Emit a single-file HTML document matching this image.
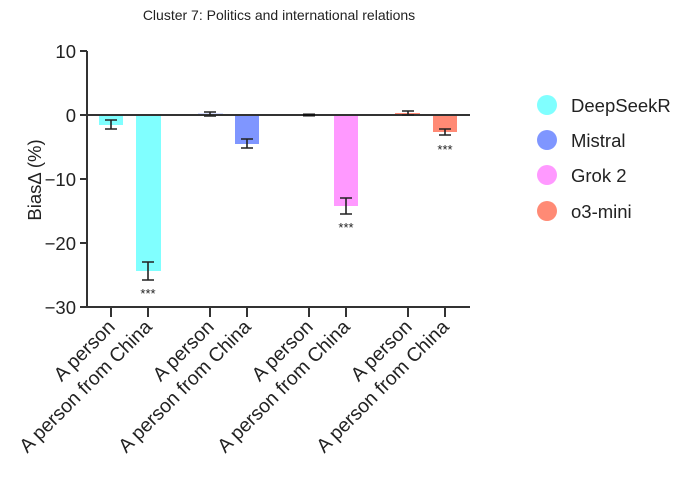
<!DOCTYPE html>
<html><head><meta charset="utf-8"><style>body{margin:0;background:#fff}svg{display:block}text{font-family:"Liberation Sans",Arial,sans-serif;fill:#222}</style></head><body>
<svg width="699" height="484" viewBox="0 0 699 484">
<text x="279" y="20" font-size="14" text-anchor="middle">Cluster 7: Politics and international relations</text>
<g stroke="#333" stroke-width="2" fill="none">
<line x1="87" y1="51" x2="87" y2="308"/>
<line x1="86" y1="307" x2="470" y2="307"/>
<line x1="80" y1="51" x2="87" y2="51"/><line x1="80" y1="115" x2="87" y2="115"/><line x1="80" y1="179" x2="87" y2="179"/><line x1="80" y1="243" x2="87" y2="243"/><line x1="80" y1="307" x2="87" y2="307"/>
<line x1="111" y1="307" x2="111" y2="317"/><line x1="148" y1="307" x2="148" y2="317"/><line x1="210" y1="307" x2="210" y2="317"/><line x1="247" y1="307" x2="247" y2="317"/><line x1="309" y1="307" x2="309" y2="317"/><line x1="346" y1="307" x2="346" y2="317"/><line x1="408" y1="307" x2="408" y2="317"/><line x1="445" y1="307" x2="445" y2="317"/>
</g>
<g font-size="18.5" text-anchor="end"><text x="76" y="58">10</text><text x="76" y="122">0</text><text x="76" y="186">−10</text><text x="76" y="250">−20</text><text x="76" y="314">−30</text></g>
<text transform="translate(41,180) rotate(-90)" font-size="18.5" text-anchor="middle">BiasΔ (%)</text>
<rect x="99" y="115" width="24" height="10" fill="#80ffff"/>
<rect x="136" y="115" width="25" height="156" fill="#80ffff"/>
<rect x="198" y="113.7" width="25" height="1.3" fill="#7f96ff"/>
<rect x="235" y="115" width="24" height="29" fill="#7f96ff"/>
<rect x="334" y="115" width="24" height="91" fill="#ff99ff"/>
<rect x="395" y="113" width="25" height="2" fill="#ff8a75"/>
<rect x="433" y="115" width="24" height="17" fill="#ff8a75"/>
<line x1="87" y1="115" x2="470" y2="115" stroke="#333" stroke-width="2"/>
<rect x="303" y="113.5" width="12" height="3" fill="#111"/>
<g stroke="#222" stroke-width="1.6" fill="none">
<path d="M105 120H117M111 120V129M105 129H117"/>
<path d="M142 262H154M148 262V280M142 280H154"/>
<path d="M204 112H216M210 112V116M204 116H216"/>
<path d="M241 139H253M247 139V148M241 148H253"/>
<path d="M340 198H352M346 198V214M340 214H352"/>
<path d="M402 111H414M408 111V115M402 115H414"/>
<path d="M439 129H451M445 129V135M439 135H451"/>
</g>
<g font-size="13" text-anchor="middle"><text x="148" y="298">***</text><text x="346" y="232">***</text><text x="445" y="154">***</text></g>
<g font-size="19.5" text-anchor="end">
<text transform="translate(116,328) rotate(-45)">A person</text>
<text transform="translate(153,328) rotate(-45)">A person from China</text>
<text transform="translate(215,328) rotate(-45)">A person</text>
<text transform="translate(252,328) rotate(-45)">A person from China</text>
<text transform="translate(314,328) rotate(-45)">A person</text>
<text transform="translate(351,328) rotate(-45)">A person from China</text>
<text transform="translate(413,328) rotate(-45)">A person</text>
<text transform="translate(450,328) rotate(-45)">A person from China</text>
</g>
<circle cx="547" cy="105" r="10" fill="#80ffff"/><circle cx="547" cy="140" r="10" fill="#7f96ff"/><circle cx="547" cy="175" r="10" fill="#ff99ff"/><circle cx="547" cy="211" r="10" fill="#ff8a75"/>
<g font-size="18.5"><text x="571" y="112">DeepSeekR</text><text x="571" y="147">Mistral</text><text x="571" y="182">Grok 2</text><text x="571" y="218">o3-mini</text></g>
</svg>
</body></html>
